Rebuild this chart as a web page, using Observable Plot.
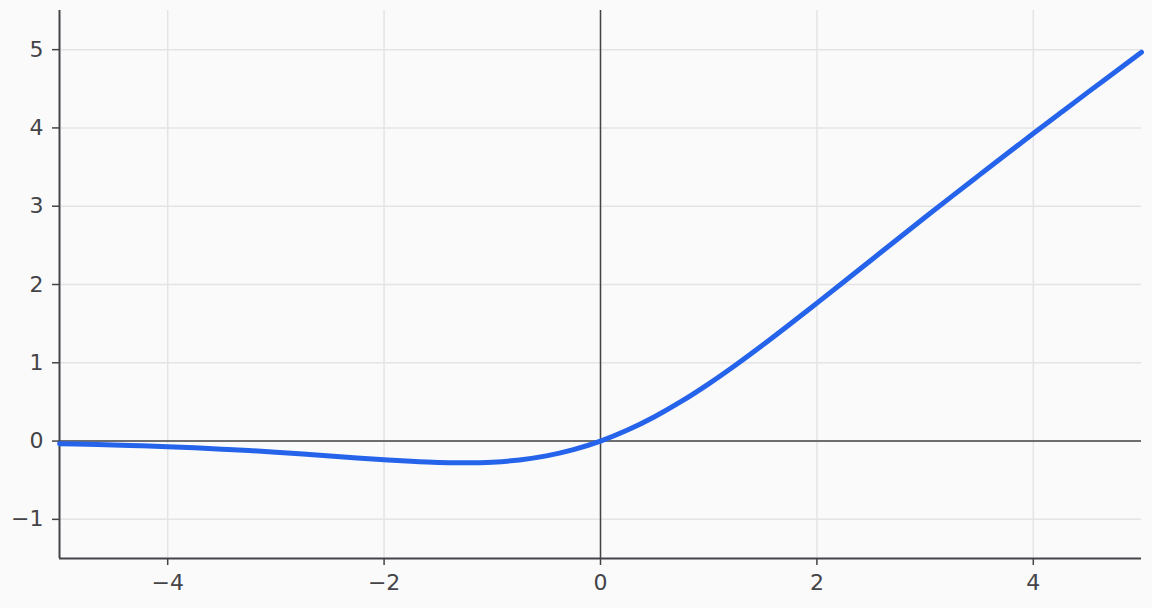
<!DOCTYPE html>
<html>
<head>
<meta charset="utf-8">
<script src="https://cdn.jsdelivr.net/npm/d3@7"></script>
<script src="https://cdn.jsdelivr.net/npm/@observablehq/plot@0.6"></script>
<style>
  html, body { margin: 0; padding: 0; background: #fafafa; }
  #chart svg { display: block; }
</style>
</head>
<body>
<div id="chart"></div>
<script>
const xs = [-5,-4.75,-4.5,-4.25,-4,-3.75,-3.5,-3.25,-3,-2.75,-2.5,-2.25,-2,-1.75,-1.5,-1.25,-1,-0.75,-0.5,-0.25,0,0.25,0.5,0.75,1,1.25,1.5,1.75,2,2.25,2.5,2.75,3,3.25,3.5,3.75,4,4.25,4.5,4.75,5];
const ys = [-0.034,-0.041,-0.049,-0.060,-0.072,-0.086,-0.103,-0.121,-0.142,-0.165,-0.190,-0.215,-0.238,-0.259,-0.274,-0.278,-0.269,-0.241,-0.189,-0.109,0,0.141,0.311,0.509,0.731,0.972,1.226,1.491,1.762,2.035,2.310,2.585,2.858,3.129,3.397,3.664,3.928,4.190,4.451,4.709,4.967];
const xTicks = [-4,-2,0,2,4];
const yTicks = [-1,0,1,2,3,4,5];

const data = xs.map((x, i) => ({x, y: ys[i]}));
const ink = "#444448";
const fmt = d => d < 0 ? "\u2212" + Math.abs(d) : String(d);

const chart = Plot.plot({
  width: 1152,
  height: 608,
  marginLeft: 59,
  marginRight: 11,
  marginTop: 10,
  marginBottom: 50,
  style: {background: "#fafafa", fontFamily: "DejaVu Sans", fontSize: "22px", color: ink},
  x: {domain: [-5, 5]},
  y: {domain: [-1.5, 5.5]},
  marks: [
    Plot.ruleX(xTicks, {stroke: "#e4e4e4", strokeWidth: 1.5, y1: -1.5, y2: 5.5}),
    Plot.ruleY(yTicks, {stroke: "#e4e4e4", strokeWidth: 1.5, x1: -5, x2: 5}),
    Plot.ruleX([0], {stroke: ink, strokeWidth: 1.5}),
    Plot.ruleY([0], {stroke: ink, strokeWidth: 1.5}),
    Plot.axisX({ticks: xTicks, tickSize: 7, tickPadding: 9, stroke: ink, strokeWidth: 1.5, fill: ink, label: null, tickFormat: fmt}),
    Plot.axisY({ticks: yTicks, tickSize: 7, tickPadding: 9, stroke: ink, strokeWidth: 1.5, fill: ink, label: null, tickFormat: fmt}),
    Plot.ruleX([-5], {stroke: ink, strokeWidth: 2}),
    Plot.ruleY([-1.5], {stroke: ink, strokeWidth: 2}),
    Plot.line(data, {x: "x", y: "y", stroke: "#2563eb", strokeWidth: 5, curve: "catmull-rom"})
  ]
});
document.getElementById("chart").appendChild(chart);
</script>
</body>
</html>
